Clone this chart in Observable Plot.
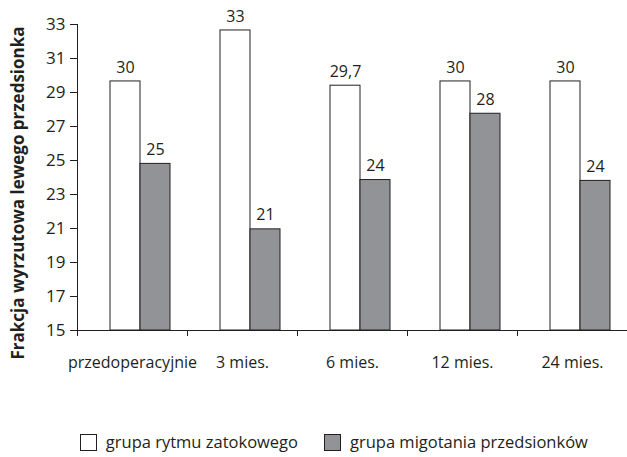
<!DOCTYPE html>
<html>
<head>
<meta charset="utf-8">
<script src="https://cdn.jsdelivr.net/npm/d3@7"></script>
<script src="https://cdn.jsdelivr.net/npm/@observablehq/plot@0.6"></script>
<style>
  html, body { margin: 0; padding: 0; background: #fff; }
  body { width: 627px; height: 457px; overflow: hidden; font-family: "Open Sans", sans-serif; position: relative; }
  .legend-item { position: absolute; top: 432px; display: flex; align-items: center; font-size: 16.5px; color: #231f20; line-height: 20px; white-space: nowrap; }
  .legend-item .sw { width: 15px; height: 15px; border: 1px solid #231f20; display: inline-block; margin-right: 9px; }
</style>
</head>
<body>
<div id="chart"></div>
<div id="legend"></div>
<script>
const categories = ["przedoperacyjnie", "3 mies.", "6 mies.", "12 mies.", "24 mies."];
const seriesNames = ["grupa rytmu zatokowego", "grupa migotania przedsionków"];
const sinusValues = [29.65, 32.65, 29.4, 29.65, 29.65];
const afValues = [24.8, 20.95, 23.85, 27.75, 23.8];
const sinusLabels = ["30", "33", "29,7", "30", "30"];
const afLabels = ["25", "21", "24", "28", "24"];
const yTicks = [15, 17, 19, 21, 23, 25, 27, 29, 31, 33];
const colors = ["#ffffff", "#929396"];
const yTitle = "Frakcja wyrzutowa lewego przedsionka";

const data = [];
categories.forEach((c, i) => {
  data.push({cat: c, series: seriesNames[0], value: sinusValues[i], label: sinusLabels[i]});
  data.push({cat: c, series: seriesNames[1], value: afValues[i], label: afLabels[i]});
});

const ink = "#231f20";
const plot = Plot.plot({
  width: 627,
  height: 390,
  marginLeft: 77,
  marginRight: 0,
  marginTop: 24,
  marginBottom: 60,
  style: {fontFamily: "Open Sans", fontSize: "16px", color: ink, background: "white"},
  fx: {domain: categories, padding: 0, label: null, tickSize: 0, tickPadding: 26, axis: "bottom"},
  x: {domain: seriesNames, paddingInner: 0, paddingOuter: 0.78, align: 0.66, axis: null},
  y: {domain: [15, 33], ticks: yTicks, tickSize: 7, tickPadding: 5, label: null, tickFormat: d => String(d)},
  color: {domain: seriesNames, range: colors},
  marks: [
    Plot.barY(data, {fx: "cat", x: "series", y1: 15, y2: "value", fill: "series", stroke: ink, strokeWidth: 1}),
    Plot.text(data, {fx: "cat", x: "series", y: "value", text: "label", dy: -14, fill: ink, fontSize: 16}),
    Plot.ruleY([15], {stroke: ink})
  ]
});
document.getElementById("chart").appendChild(plot);

// y tick labels slightly larger, as in the reference
d3.select(plot).selectAll("[aria-label='y-axis tick label'] text, g[aria-label='y-axis'] text").attr("font-size", 17);

// axis lines and category boundary ticks from the library's scales
const fx = plot.scale("fx");
const y = plot.scale("y");
const svg = d3.select(plot);
const g = svg.append("g").attr("stroke", ink).attr("stroke-width", 1);
const y0 = y.apply(15), y1 = y.apply(33);
g.append("line").attr("x1", 77.5).attr("x2", 77.5).attr("y1", y1).attr("y2", y0 + 6);
categories.forEach((c, i) => {
  if (i === 0) return;
  const xb = Math.round(fx.apply(c)) + 0.5;
  g.append("line").attr("x1", xb).attr("x2", xb).attr("y1", y0).attr("y2", y0 + 6);
});
svg.append("text")
  .attr("transform", `translate(24,193) rotate(-90)`)
  .attr("text-anchor", "middle")
  .attr("font-weight", "bold")
  .attr("font-size", 17)
  .attr("fill", ink)
  .text(yTitle);

const legend = document.getElementById("legend");
seriesNames.forEach((s, i) => {
  const item = document.createElement("div");
  item.className = "legend-item";
  if (i === 0) item.style.right = (627 - 298) + "px";
  else item.style.left = "324px";
  const sw = document.createElement("span");
  sw.className = "sw";
  sw.style.background = colors[i];
  const t = document.createElement("span");
  t.textContent = s;
  item.appendChild(sw); item.appendChild(t);
  legend.appendChild(item);
});
</script>
</body>
</html>
